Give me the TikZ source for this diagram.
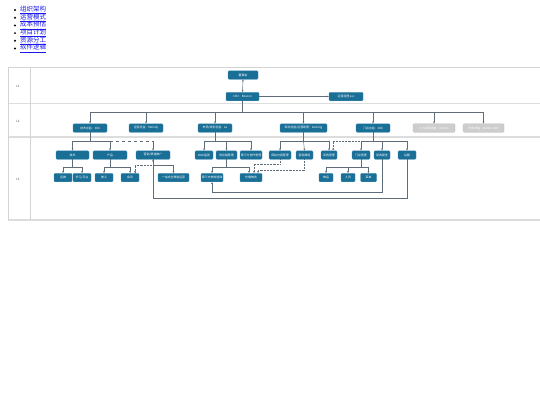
\documentclass[tikz,border=0pt]{standalone}
\usepackage{fontspec}
\setmainfont{Noto Sans CJK SC}
\usetikzlibrary{arrows.meta}
\definecolor{nb}{HTML}{1A6F97}
\definecolor{nbd}{HTML}{3F8DB3}
\definecolor{gb}{HTML}{CDCDCD}
\definecolor{gbd}{HTML}{B8B8B8}
\definecolor{ln}{HTML}{5E6D79}
\definecolor{tb}{HTML}{D4D4D4}
\definecolor{lk}{HTML}{1A1AEE}
\tikzset{
  box/.style={draw=nbd, fill=nb, rounded corners=1pt, text=white, inner sep=0pt,
    minimum height=8.5pt, font=\fontsize{2.9}{3}\selectfont, line width=0.3pt},
  gbox/.style={box, draw=gbd, fill=gb},
  conn/.style={draw=ln, line width=0.45pt},
  arr/.style={conn, -{Stealth[length=2.2pt,width=1.8pt]}},
  darr/.style={conn, {Stealth[length=2.2pt,width=1.8pt]}-{Stealth[length=2.2pt,width=1.8pt]}},
  dots/.style={densely dotted, line width=0.6pt},
  tline/.style={draw=tb, line width=0.6pt},
  trow/.style={draw=tb!80, line width=1.6pt},
  item/.style={anchor=west, text=lk, font=\fontsize{6.5}{7}\selectfont, inner sep=0pt},
  rowlab/.style={font=\fontsize{3}{3.5}\selectfont, text=black!70, inner sep=0pt}
}
\begin{document}
\begin{tikzpicture}[x=1pt,y=-1pt]
\useasboundingbox (0,0) rectangle (540,405);
% list
\foreach \t [count=\i] in {组织架构,运营模式,成本预估,项目计划,资源分工,软件逻辑}{
  \fill (15,{10+(\i-1)*7.7}) circle (1.1pt);
  \node[item] (li\i) at (20,{10+(\i-1)*7.7}) {\underline{\t}};
}
% table
\draw[tline] (8,67) -- (540,67);
\draw[trow] (8,103.5) -- (540,103.5);
\draw[trow] (8,137) -- (540,137);
\draw[trow] (8,220) -- (540,220);
\draw[tline] (8,67) -- (8,220);
\draw[tline] (30,67) -- (30,220);
\node[rowlab] (l1) at (18,86) {L1};
\node[rowlab] (l2) at (18,121) {L2};
\node[rowlab] (l3) at (18,179) {L3};
% row 1
\node[box, minimum width=30pt] (bod) at (243,75) {董事会};
\node[box, minimum width=33pt] (ceo) at (242.5,96.5) {CEO：Beacon};
\node[box, minimum width=34pt] (ops) at (346,96.5) {运营经理 xxx};
\draw[darr] (bod.south) -- (ceo.north);
\draw[arr] (ceo.east) -- (ops.west);
% row 2
\node[box, minimum width=34pt] (r2a) at (90,128) {技术总监：XXX};
\node[box, minimum width=34pt] (r2b) at (146,128) {运营总监：Melody};
\node[box, minimum width=34pt] (r2c) at (215,128) {市场/商务总监：Lu};
\node[box, minimum width=47pt] (r2d) at (303.5,128) {采购总监/运营助理：Xudong};
\node[box, minimum width=34pt] (r2e) at (373,128) {门店总监：XXX};
\node[gbox, minimum width=42pt] (r2f) at (434,128) {人力资源总监：Dennis};
\node[gbox, minimum width=41pt] (r2g) at (483.5,128) {财务总监：Dennis XXX};
\foreach \n in {r2a,r2b,r2c,r2d,r2e,r2f,r2g}
  \draw[arr] (ceo.south) -- (242.5,112) -| (\n.north);
% row 3, level 1
\node[box, minimum width=33pt] (tech) at (72.5,155) {技术};
\node[box, minimum width=34pt] (prod) at (110,155) {产品};
\node[box, minimum width=34pt] (mkt) at (153,155) {营销/渠道推广};
\node[box, minimum width=18pt] (web) at (204,155) {Web监测};
\node[box, minimum width=21pt] (supply) at (226.5,155) {供应链管理};
\node[box, minimum width=22pt] (third) at (251,155) {第三方合作管理};
\node[box, minimum width=22pt] (site) at (280,155) {网站内容管理};
\node[box, minimum width=17pt] (chan) at (304.5,155) {营销渠道};
\node[box, minimum width=16pt] (purch) at (329,155) {采购管理};
\node[box, minimum width=18pt] (store) at (361,155) {门店管理};
\node[box, minimum width=16pt] (deliv) at (382,155) {采购配送};
\node[box, minimum width=18pt] (other) at (407,155) {后勤};
% row 3, level 2
\node[box, minimum width=18pt] (yw) at (63,177.5) {运维};
\node[box, minimum width=18pt] (learn) at (82,177.5) {学习/平台};
\node[box, minimum width=18pt] (art) at (104,177.5) {美工};
\node[box, minimum width=18pt] (member) at (130,177.5) {会员};
\node[box, minimum width=31pt] (oneall) at (173.5,177.5) {一站式全渠道运营};
\node[box, minimum width=22pt] (tp) at (212,177.5) {第三方物流速递};
\node[box, minimum width=22pt] (wh) at (251,177.5) {仓储物流};
\node[box, minimum width=14pt] (goods) at (326,177.5) {物品};
\node[box, minimum width=14pt] (staff) at (348,177.5) {人员};
\node[box, minimum width=16pt] (menu) at (368.5,177.5) {菜单};
% technology branch
\draw[arr] (r2a.south) -- (90,141) -| (tech.north);
\draw[arr] (r2a.south) -- (90,141) -| (prod.north);
\draw[conn, dashed] (110,141) -- (153,141);
\draw[arr] (153,141) -- (mkt.north);
\draw[arr] (tech.south) -- (72.5,167) -| (yw.north);
\draw[arr] (tech.south) -- (72.5,167) -| (learn.north);
\draw[arr] (prod.south) -- (110,167) -| (art.north);
\draw[arr] (prod.south) -- (110,167) -| (member.north);
\draw[arr] (mkt.south) -- (153,165) -| (oneall.north);
\draw[arr, dots] (153,165) -| ([xshift=5pt]member.north);
% market branch
\draw[arr] (r2c.south) -- (215,141) -| (web.north);
\draw[arr] (r2c.south) -- (215,141) -| (supply.north);
\draw[arr] (r2c.south) -- (215,141) -| (third.north);
\draw[arr] (supply.south) -- (226.5,167) -| (tp.north);
\draw[arr] (supply.south) -- (226.5,167) -| ([xshift=-2pt]wh.north);
% purchasing branch
\draw[arr] (r2d.south) -- (303.5,141) -| (site.north);
\draw[arr] (r2d.south) -- (303.5,141) -- (chan.north);
\draw[arr] (r2d.south) -- (303.5,141) -| (purch.north);
\draw[arr, dots] (site.south) -- (280,164) -| ([xshift=3pt]wh.north);
\draw[arr, dots] (chan.south) -- (304.5,170) -| ([xshift=7pt]wh.north);
% store branch
\draw[arr] (r2e.south) -- (373,141) -| (store.north);
\draw[arr] (r2e.south) -- (373,141) -| (deliv.north);
\draw[arr] (r2e.south) -- (373,141) -| (other.north);
\draw[arr, dots] (361,141) -| ([xshift=4pt]purch.north);
\draw[arr] (store.south) -- (361,167) -| (goods.north);
\draw[arr] (store.south) -- (361,167) -| (staff.north);
\draw[arr] (store.south) -- (361,167) -| (menu.north);
% long return connectors
\draw[arr] (other.south) -- (407,198) -| (mkt.south);
\draw[arr] (deliv.south) -- (382,192) -| (tp.south);
\end{tikzpicture}
\end{document}
